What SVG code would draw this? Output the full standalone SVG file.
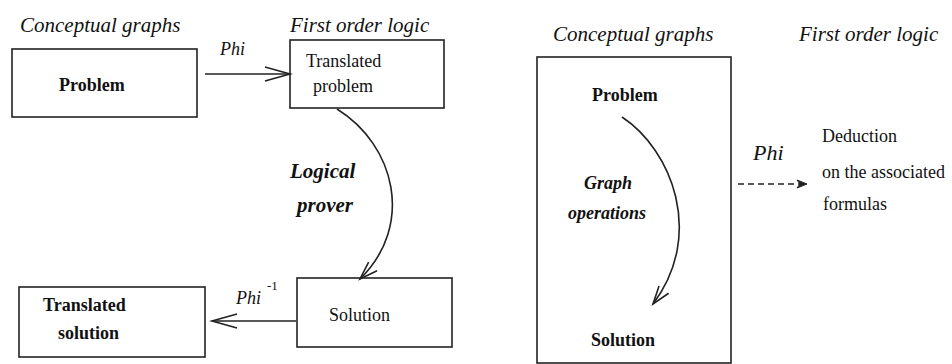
<svg xmlns="http://www.w3.org/2000/svg" width="952" height="364" viewBox="0 0 952 364" font-family="'Liberation Serif', 'Times New Roman', 'DejaVu Serif', serif">
<defs>
<style>
text{font-family:"Liberation Serif","Times New Roman","DejaVu Serif",serif;fill:#111}
.i{font-style:italic}
.b{font-weight:bold}
.box{fill:#fff;stroke:#222;stroke-width:1.6}
.frame{fill:none;stroke:#222;stroke-width:1.6}
.ln{fill:none;stroke:#222;stroke-width:1.6}
</style>
<marker id="open" markerUnits="userSpaceOnUse" markerWidth="30" markerHeight="20" refX="25" refY="7" orient="auto" overflow="visible">
<path d="M0,0 L25,7 L0,14" fill="none" stroke="#222" stroke-width="1.6"/>
</marker>
<marker id="openS" markerUnits="userSpaceOnUse" markerWidth="20" markerHeight="16" refX="18" refY="6" orient="auto" overflow="visible">
<path d="M0,0 L18,6 L0,12" fill="none" stroke="#222" stroke-width="1.6"/>
</marker>
<marker id="dash" markerUnits="userSpaceOnUse" markerWidth="12" markerHeight="10" refX="10" refY="4" orient="auto" overflow="visible">
<path d="M0,0 L10,4 L0,8 L3,4 Z" fill="#222" stroke="#222" stroke-width="1"/>
</marker>
</defs>
<rect width="952" height="364" fill="#fff"/>

<g id="headers">
<text class="i" x="20" y="32" font-size="21">Conceptual graphs</text>
<text class="i" x="290" y="32" font-size="21">First order logic</text>
<text class="i" x="553" y="41" font-size="21">Conceptual graphs</text>
<text class="i" x="799" y="41" font-size="21">First order logic</text>
</g>

<g id="node-problem">
<rect class="box" x="12" y="49" width="185" height="68"/>
<text class="b" x="59" y="91" font-size="18">Problem</text>
</g>

<g id="node-translated-problem">
<rect class="box" x="290" y="40" width="154" height="68"/>
<text x="306" y="67" font-size="18">Translated</text>
<text x="313" y="92" font-size="18">problem</text>
</g>

<g id="node-solution">
<rect class="box" x="297" y="278" width="155" height="69"/>
<text x="329" y="321" font-size="18">Solution</text>
</g>

<g id="node-translated-solution">
<rect class="box" x="19" y="287" width="186" height="70"/>
<text class="b" x="43" y="311" font-size="18">Translated</text>
<text class="b" x="58" y="339" font-size="18">solution</text>
</g>

<g id="node-cg-box">
<rect class="frame" x="537" y="57" width="194" height="306"/>
<text class="b" x="592" y="101" font-size="18">Problem</text>
<text class="i b" x="584" y="189" font-size="18">Graph</text>
<text class="i b" x="568" y="219" font-size="18">operations</text>
<text class="b" x="591" y="346" font-size="18">Solution</text>
</g>

<g id="node-deduction">
<text x="822" y="142" font-size="18">Deduction</text>
<text x="822" y="178" font-size="18">on the associated</text>
<text x="823" y="210" font-size="18">formulas</text>
</g>

<g id="connectors">
<path class="ln" d="M205,74 L290,74" marker-end="url(#open)"/>
<path class="ln" d="M337,109 C395,145 415,225 360,279" marker-end="url(#openS)"/>
<path class="ln" d="M296,321 L212,321" marker-end="url(#open)"/>
<path class="ln" d="M622,117 C672,150 705,235 653,304" marker-end="url(#openS)"/>
<path class="ln" d="M738,184 L807,184" stroke-dasharray="6,4" marker-end="url(#dash)"/>
</g>

<g id="labels">
<text class="i" x="220" y="55" font-size="18">Phi</text>
<text class="i b" x="290" y="178" font-size="21">Logical</text>
<text class="i b" x="297" y="212" font-size="21">prover</text>
<text class="i" x="236" y="304" font-size="18">Phi</text>
<text x="267" y="290" font-size="13">-1</text>
<text class="i" x="753" y="160" font-size="22">Phi</text>
</g>
</svg>
